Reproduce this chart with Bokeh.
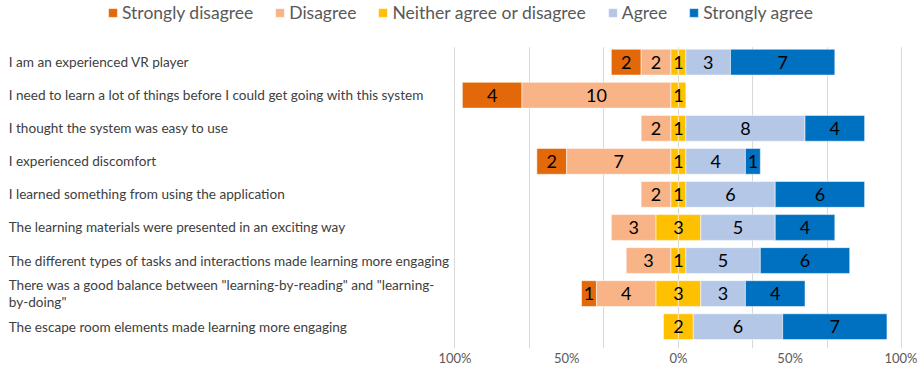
from bokeh.plotting import figure
from bokeh.models import (ColumnDataSource, Range1d, Legend, LegendItem, FixedTicker, Grid,
                          CustomJSTickFormatter, BoxAnnotation)
from bokeh.core.properties import value
from bokeh.embed import file_html
from bokeh.resources import INLINE

questions = [
    "I am an experienced VR player",
    "I need to learn a lot of things before I could get going with this system",
    "I thought the system was easy to use",
    "I experienced discomfort",
    "I learned something from using the application",
    "The learning materials were presented in an exciting way",
    "The different types of tasks and interactions made learning more engaging",
    "There was a good balance between \"learning-by-reading\" and \"learning-\nby-doing\"",
    "The escape room elements made learning more engaging",
]
strongly_disagree = [2, 4, 0, 2, 0, 0, 0, 1, 0]
disagree = [2, 10, 2, 7, 2, 3, 3, 4, 0]
neutral = [1, 1, 1, 1, 1, 3, 1, 3, 2]
agree = [3, 0, 8, 4, 6, 5, 5, 3, 6]
strongly_agree = [7, 0, 4, 1, 6, 4, 6, 4, 7]
n_respondents = 15
series_names = ["Strongly disagree", "Disagree", "Neither agree or disagree", "Agree", "Strongly agree"]
colors = ["#E2680A", "#F8B487", "#FFC000", "#B4C7E7", "#0070C0"]
tick_pct = [-100, -50, 0, 50, 100]

FONT = "Lato"
BOTTOM, H = 18, 368

p = figure(width=917, height=H, output_backend="svg", toolbar_location=None,
           x_range=Range1d(-45.5, 16.05), y_range=Range1d(8.66, -1.865),
           y_axis_location=None, min_border_left=0, min_border_right=0,
           min_border_top=0, min_border_bottom=BOTTOM)
p.outline_line_color = None
p.background_fill_color = "white"
p.border_fill_color = "white"
p.xgrid.visible = False
p.ygrid.visible = False

grid_ticks = [k * n_respondents / 3 for k in range(-3, 4)]
p.add_layout(Grid(dimension=0, ticker=FixedTicker(ticks=grid_ticks),
                  grid_line_color="#D9D9D9", grid_line_width=1))
# keep the legend strip free of gridlines
p.add_layout(BoxAnnotation(top=None, bottom=-0.45, fill_color="white", fill_alpha=1,
                           line_color=None, level="underlay"))

rows = list(range(len(questions)))

def seg_source(lefts, rights, counts):
    xs, ws, ys, labs = [], [], [], []
    for i in rows:
        w = rights[i] - lefts[i]
        if counts[i] > 0:
            xs.append((lefts[i] + rights[i]) / 2)
            ws.append(w)
            ys.append(i)
            labs.append(str(counts[i]))
    return ColumnDataSource(dict(x=xs, w=ws, y=ys, lab=labs))

half_n = [v / 2 for v in neutral]
d_left = [-(half_n[i] + disagree[i]) for i in rows]
sd_left = [d_left[i] - strongly_disagree[i] for i in rows]
a_right = [half_n[i] + agree[i] for i in rows]
sa_right = [a_right[i] + strongly_agree[i] for i in rows]

sources = [
    seg_source(sd_left, d_left, strongly_disagree),
    seg_source(d_left, [-h for h in half_n], disagree),
    None,
    seg_source(half_n, a_right, agree),
    seg_source(a_right, sa_right, strongly_agree),
]
nx, nw, ny = [], [], []
for i in rows:
    if neutral[i] > 0:
        nx += [-half_n[i] / 2, half_n[i] / 2]
        nw += [half_n[i], half_n[i]]
        ny += [i, i]
sources[2] = ColumnDataSource(dict(x=nx, w=nw, y=ny))
neutral_lab = ColumnDataSource(dict(x=[0 for i in rows if neutral[i] > 0],
                                    y=[i for i in rows if neutral[i] > 0],
                                    lab=[str(neutral[i]) for i in rows if neutral[i] > 0]))

items = []
for k, src in enumerate(sources):
    r = p.rect(x="x", y="y", width="w", height=0.78, source=src,
               fill_color=colors[k], line_color="white", line_alpha=0.5, line_width=1)
    items.append(LegendItem(label=series_names[k], renderers=[r]))
for k, src in enumerate(sources):
    lab_src = neutral_lab if k == 2 else src
    p.text(x="x", y="y", text="lab", source=lab_src, text_align="center", text_baseline="middle",
           text_font=value(FONT), text_font_size="18px", text_color="black")

lab_src = ColumnDataSource(dict(x=[-44.95] * len(questions), y=rows, t=questions))
p.text(x="x", y="y", text="t", source=lab_src, text_align="left", text_baseline="middle",
       text_font=value(FONT), text_font_size="13.6px", text_color="#404040", text_line_height=1.1)

legend = Legend(items=items, orientation="horizontal", location=(107, 325),
                label_text_font=FONT, label_text_font_size="17.5px", label_text_color="#595959",
                glyph_width=11, glyph_height=11, label_standoff=4, spacing=21,
                padding=0, margin=0, border_line_color=None, background_fill_alpha=0)
p.add_layout(legend, "center")

ax = p.xaxis[0]
ax.ticker = FixedTicker(ticks=[t * n_respondents / 100 for t in tick_pct])
ax.formatter = CustomJSTickFormatter(code="return Math.round(Math.abs(tick) / %d * 100) + '%%';" % n_respondents)
ax.axis_line_color = None
ax.major_tick_line_color = None
ax.minor_tick_line_color = None
ax.major_tick_out = 0
ax.major_label_text_font = FONT
ax.major_label_text_font_size = "13px"
ax.major_label_text_color = "#595959"
ax.major_label_standoff = 1

open("out.html", "w").write(file_html(p, INLINE))
